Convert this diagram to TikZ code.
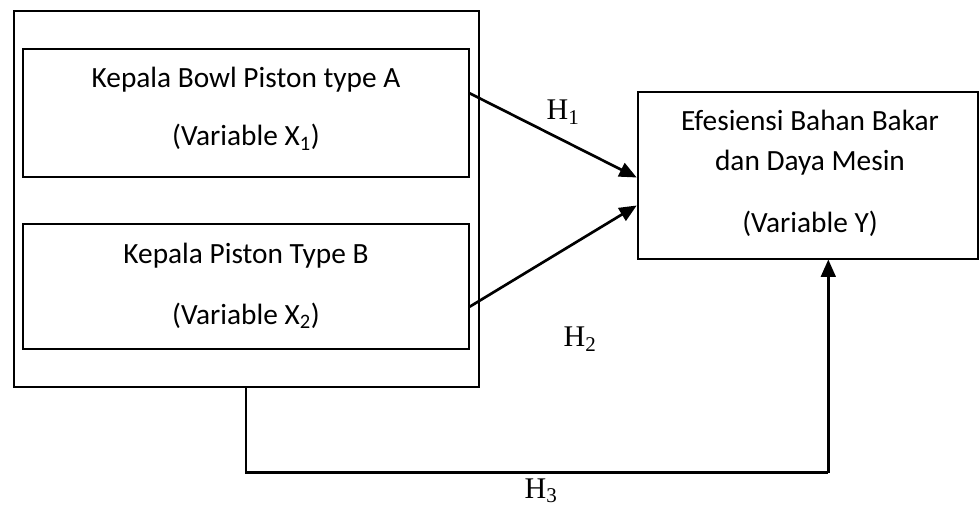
\documentclass[tikz,border=0pt]{standalone}
\usepackage{fontspec}
\setmainfont{Carlito}
\newfontfamily\hfont{Liberation Serif}
\usetikzlibrary{fit,arrows.meta}

\begin{document}
\begin{tikzpicture}[x=0.75pt,y=-0.75pt,
  box/.style={draw,line width=1.5pt,inner sep=0pt},
  label/.style={anchor=base,inner sep=0pt,font=\fontsize{22}{26}\selectfont},
  hyp/.style={anchor=base,inner sep=0pt,font=\hfont\fontsize{22.5}{26}\selectfont},
  link/.style={line width=2pt,-{Triangle[length=13pt,width=11pt]}},
  loop/.style={line width=1.6pt}]

\useasboundingbox (0,0) rectangle (980,506);

% corner points of the boxes
\coordinate (o1) at (14,11);     \coordinate (o2) at (478.7,386.7);
\coordinate (a1) at (23.3,49);   \coordinate (a2) at (468.7,176.7);
\coordinate (b1) at (23.3,224.3);\coordinate (b2) at (468.7,348.7);
\coordinate (y1) at (637.7,92.3);\coordinate (y2) at (978,258.5);

\node[box,fit=(o1)(o2)] (outer) {};
\node[box,fit=(a1)(a2)] (boxA) {};
\node[box,fit=(b1)(b2)] (boxB) {};
\node[box,fit=(y1)(y2)] (boxY) {};

% texts
\node[label] (tA1) at (246,87.3) {Kepala Bowl Piston type A};
\node[label] (tA2) at (246,146) {(Variable X\textsubscript{1})};
\node[label] (tB1) at (246,263.3) {Kepala Piston Type B};
\node[label] (tB2) at (246,324) {(Variable X\textsubscript{2})};
\node[label] (tY1) at (810,130.7) {Efesiensi Bahan Bakar};
\node[label] (tY2) at (810,170) {dan Daya Mesin};
\node[label] (tY3) at (810,232.7) {(Variable Y)};

\node[hyp] (h1) at (563,120) {H\textsubscript{1}};
\node[hyp] (h2) at (580,346.7) {H\textsubscript{2}};
\node[hyp] (h3) at (541,498.5) {H\textsubscript{3}};

% levels where the arrows leave and meet the boxes
\coordinate (sA) at (0,93.3);  \coordinate (eA) at (0,177.5);
\coordinate (sB) at (0,306.7); \coordinate (eB) at (0,205.5);
\coordinate (bl) at (246,472.5); \coordinate (br) at (828.3,472.5);

\draw[link] (boxA.east |- sA) -- (boxY.west |- eA);
\draw[link] (boxB.east |- sB) -- (boxY.west |- eB);
\draw[loop] (outer.south -| bl) -- (bl) -- (br);
\draw[link,line width=1.8pt] (br) -- (boxY.south -| br);
\end{tikzpicture}
\end{document}
